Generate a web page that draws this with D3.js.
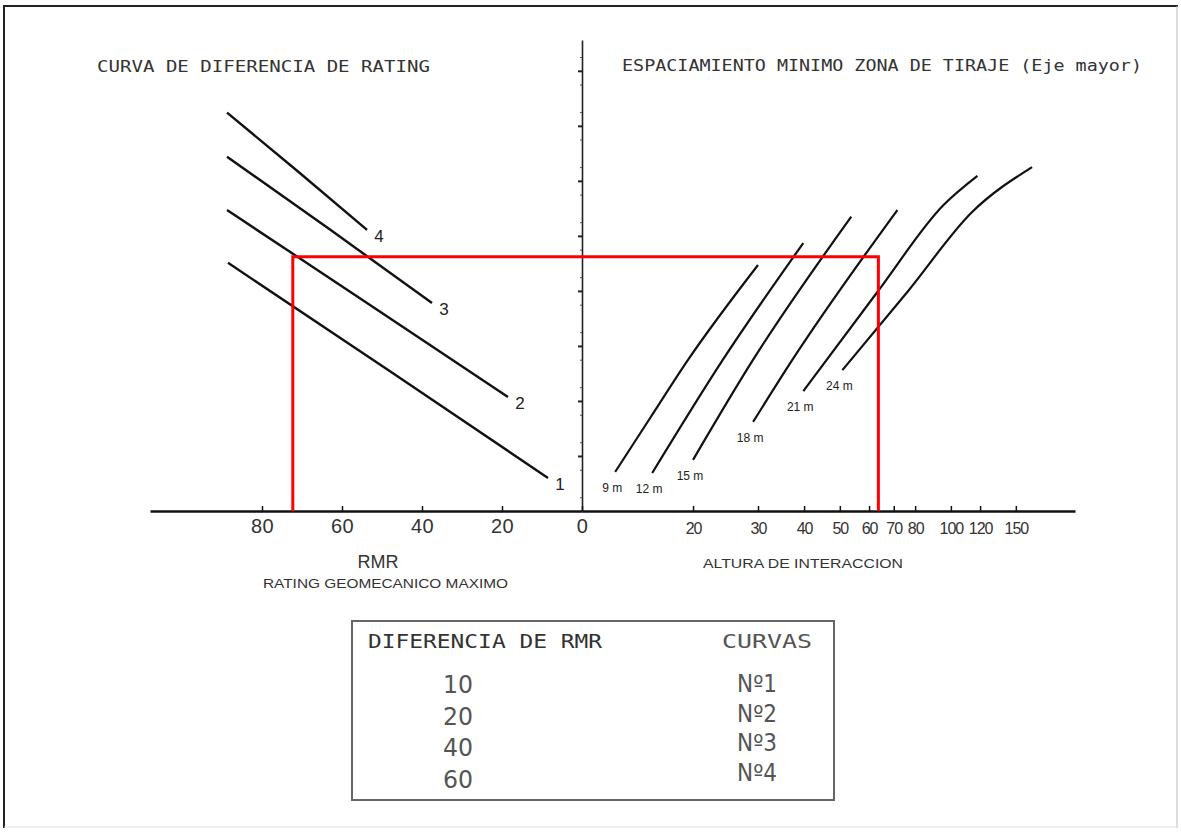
<!DOCTYPE html>
<html>
<head>
<meta charset="utf-8">
<script src="https://cdn.jsdelivr.net/npm/d3@7"></script>
<style>
  body { margin: 0; background: #fff; }
  svg { display: block; }
  .mono { font-family: "DejaVu Sans Mono", monospace; }
  .sans { font-family: "Liberation Sans", Arial, sans-serif; }
</style>
</head>
<body>
<div id="chart"></div>
<script>
// left panel: rating difference curves (RMR, spacing units)
var rmrTicks = [80, 60, 40, 20, 0];
var ratingCurves = [
  { id: '1', pts: [[88.5, 45.1], [48, 25.4], [8.5, 6.0]] },
  { id: '2', pts: [[88.75, 54.7], [53, 37.45], [18.5, 20.7]] },
  { id: '3', pts: [[88.75, 64.4], [63, 51.15], [37.5, 37.8]] },
  { id: '4', pts: [[88.75, 72.4], [71, 61.7], [53.75, 51.1]] }
];

// right panel: minimum spacing vs interaction height (log)
var heightTicks = [20, 30, 40, 50, 60, 70, 80, 100, 120, 150];
var spacingCurves = [
  { id: '9 m',  pts: [[12.3, 7.1], [15.3, 16.9], [19.4, 27.5], [30.0, 44.7]] },
  { id: '12 m', pts: [[15.5, 6.9], [24.1, 27.5], [39.8, 48.7]] },
  { id: '15 m', pts: [[20.0, 9.3], [29.1, 27.5], [53.7, 53.5]] },
  { id: '18 m', pts: [[29.1, 16.2], [37.2, 27.5], [71.6, 54.7]] },
  { id: '21 m', pts: [[39.8, 21.8], [63.2, 39.8], [95.5, 55.6], [118, 60.9]] },
  { id: '24 m', pts: [[50.8, 25.6], [76.2, 39.8], [114, 54.3], [166, 62.5]] }
];

// spacing axis ticks (unlabelled)
var spacingTicks = [10, 20, 30, 40, 50, 60, 70, 80];

// worked example (red lines)
var selRMR = 72.3, selHeight = 63.6, selSpacing = 46.2;

// legend table
var rmrDiffs = [10, 20, 40, 60];
var curveNames = ['Nº1', 'Nº2', 'Nº3', 'Nº4'];

var width = 1181, height = 837;

var svg = d3.select('#chart').append('svg')
  .attr('width', width)
  .attr('height', height);

// frame
svg.append('line').attr('x1', 3).attr('x2', 1178).attr('y1', 6).attr('y2', 6)
  .attr('stroke', '#222').attr('stroke-width', 2);
svg.append('line').attr('x1', 4).attr('x2', 4).attr('y1', 6).attr('y2', 828)
  .attr('stroke', '#222').attr('stroke-width', 2);
svg.append('line').attr('x1', 1177).attr('x2', 1177).attr('y1', 6).attr('y2', 828)
  .attr('stroke', '#bbb').attr('stroke-width', 1);
svg.append('line').attr('x1', 4).attr('x2', 1177).attr('y1', 827).attr('y2', 827)
  .attr('stroke', '#ddd').attr('stroke-width', 1);

var xRmr = d3.scaleLinear().domain([0, 108]).range([582, 150]);
var xH = d3.scaleLog().domain([10, 217]).range([582, 1075]);
var y = d3.scaleLinear().domain([0, 85.6]).range([511, 40]);

// vertical axis
var yAxis = svg.append('g').attr('transform', 'translate(582,0)')
  .call(d3.axisLeft(y).tickValues(spacingTicks).tickSize(4).tickSizeOuter(0).tickFormat(''));
yAxis.select('.domain').attr('stroke', '#222').attr('stroke-width', 1.6);
yAxis.selectAll('.tick line').attr('stroke', '#222').attr('stroke-width', 2);
svg.append('g').attr('transform', 'translate(582,0)')
  .call(d3.axisLeft(y).tickValues(d3.range(2.5, 85, 5)).tickSize(2).tickFormat(''))
  .call(g => g.select('.domain').remove())
  .selectAll('.tick line').attr('stroke', '#555');

// left x axis (RMR)
var axL = svg.append('g').attr('transform', 'translate(0,511)')
  .call(d3.axisBottom(xRmr).tickValues(rmrTicks).tickSize(-5).tickSizeOuter(0).tickPadding(8));
axL.select('.domain').attr('stroke', '#111').attr('stroke-width', 2.6);
axL.selectAll('.tick line').attr('stroke', '#111').attr('stroke-width', 1.5);
axL.selectAll('.tick text').attr('class', 'sans').attr('font-size', 20)
  .attr('fill', '#333').attr('letter-spacing', 0.5);

// right x axis (height, log)
var axR = svg.append('g').attr('transform', 'translate(0,511)')
  .call(d3.axisBottom(xH).tickValues(heightTicks).tickSize(-5).tickSizeOuter(0).tickPadding(12)
    .tickFormat(d3.format('d')));
axR.select('.domain').attr('stroke', '#111').attr('stroke-width', 2.6);
axR.selectAll('.tick line').attr('stroke', '#111').attr('stroke-width', 1.5);
axR.selectAll('.tick text').attr('class', 'sans').attr('font-size', 16)
  .attr('fill', '#333').attr('letter-spacing', -1);

// curves
var lineL = d3.line().x(d => xRmr(d[0])).y(d => y(d[1])).curve(d3.curveMonotoneX);
var lineR = d3.line().x(d => xH(d[0])).y(d => y(d[1])).curve(d3.curveMonotoneX);

svg.append('g').selectAll('path').data(ratingCurves).enter()
  .append('path')
  .attr('d', d => lineL(d.pts))
  .attr('fill', 'none').attr('stroke', '#111').attr('stroke-width', 2.4);

svg.append('g').selectAll('text').data(ratingCurves).enter()
  .append('text').attr('class', 'sans')
  .attr('x', d => xRmr(d.pts[d.pts.length - 1][0]) + 12)
  .attr('y', d => y(d.pts[d.pts.length - 1][1]) + 12)
  .attr('text-anchor', 'middle').attr('font-size', 17).attr('fill', '#222')
  .text(d => d.id);

svg.append('g').selectAll('path').data(spacingCurves).enter()
  .append('path')
  .attr('d', d => lineR(d.pts))
  .attr('fill', 'none').attr('stroke', '#111').attr('stroke-width', 2.2);

svg.append('g').selectAll('text').data(spacingCurves).enter()
  .append('text').attr('class', 'sans')
  .attr('x', d => xH(d.pts[0][0]) - 3)
  .attr('y', d => y(d.pts[0][1]) + 20)
  .attr('text-anchor', 'middle').attr('font-size', 12).attr('fill', '#222')
  .text(d => d.id);

// red example path
svg.append('path')
  .attr('d', d3.line()([
    [xRmr(selRMR), y(0)], [xRmr(selRMR), y(selSpacing)],
    [xH(selHeight), y(selSpacing)], [xH(selHeight), y(0)]
  ]))
  .attr('fill', 'none').attr('stroke', '#ff0000').attr('stroke-width', 3);

// titles
svg.append('text').attr('class', 'mono').attr('x', 97).attr('y', 72)
  .attr('font-size', 15).attr('fill', '#333')
  .attr('textLength', 333).attr('lengthAdjust', 'spacingAndGlyphs')
  .text('CURVA DE DIFERENCIA DE RATING');
svg.append('text').attr('class', 'mono').attr('x', 622).attr('y', 71)
  .attr('font-size', 15).attr('fill', '#333')
  .attr('textLength', 520).attr('lengthAdjust', 'spacingAndGlyphs')
  .text('ESPACIAMIENTO MINIMO ZONA DE TIRAJE (Eje mayor)');

// axis titles
svg.append('text').attr('class', 'sans').attr('x', 378).attr('y', 568)
  .attr('text-anchor', 'middle').attr('font-size', 18).attr('fill', '#333').text('RMR');
svg.append('text').attr('class', 'sans').attr('x', 263).attr('y', 588)
  .attr('font-size', 13).attr('fill', '#333')
  .attr('textLength', 245).attr('lengthAdjust', 'spacingAndGlyphs')
  .text('RATING GEOMECANICO MAXIMO');
svg.append('text').attr('class', 'sans').attr('x', 703).attr('y', 568)
  .attr('font-size', 13).attr('fill', '#333')
  .attr('textLength', 200).attr('lengthAdjust', 'spacingAndGlyphs')
  .text('ALTURA DE INTERACCION');

// legend table
var tbl = svg.append('g');
tbl.append('rect').attr('x', 352).attr('y', 621).attr('width', 482).attr('height', 179)
  .attr('fill', 'none').attr('stroke', '#666').attr('stroke-width', 2);
tbl.append('text').attr('class', 'mono').attr('x', 368).attr('y', 648)
  .attr('font-size', 20).attr('fill', '#333')
  .attr('textLength', 234).attr('lengthAdjust', 'spacingAndGlyphs')
  .text('DIFERENCIA DE RMR');
tbl.append('text').attr('class', 'mono').attr('x', 722).attr('y', 648)
  .attr('font-size', 20).attr('fill', '#555')
  .attr('textLength', 90).attr('lengthAdjust', 'spacingAndGlyphs')
  .text('CURVAS');

var rowL = d3.scaleLinear().domain([0, rmrDiffs.length - 1]).range([693, 788]);
var rowR = d3.scaleLinear().domain([0, curveNames.length - 1]).range([692, 781]);

tbl.selectAll('.diff').data(rmrDiffs).enter()
  .append('text').attr('class', 'diff')
  .attr('x', 443).attr('y', (d, i) => rowL(i))
  .attr('font-family', '"DejaVu Sans", sans-serif')
  .attr('font-size', 25).attr('fill', '#555')
  .attr('textLength', 30).attr('lengthAdjust', 'spacingAndGlyphs')
  .text(d => d);

tbl.selectAll('.cname').data(curveNames).enter()
  .append('text').attr('class', 'cname')
  .attr('x', 737).attr('y', (d, i) => rowR(i))
  .attr('font-family', '"DejaVu Sans", sans-serif')
  .attr('font-size', 24).attr('fill', '#555')
  .attr('textLength', 40).attr('lengthAdjust', 'spacingAndGlyphs')
  .text(d => d);
</script>
</body>
</html>
